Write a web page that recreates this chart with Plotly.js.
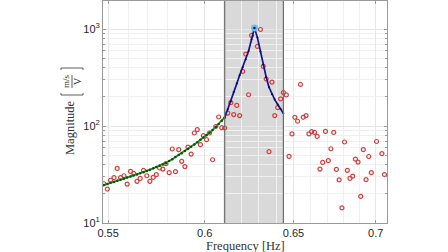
<!DOCTYPE html>
<html><head><meta charset="utf-8">
<script src="https://cdn.plot.ly/plotly-3.0.1.min.js"></script>
<style>html,body{margin:0;padding:0;background:#fff}#chart{width:448px;height:252px}</style>
</head><body><div id="chart"></div>
<script>
// Measured frequencies [Hz]
const freq = [0.5479,0.5496,0.5512,0.5529,0.5545,0.5562,0.5579,0.5595,0.5612,0.5628,
  0.5645,0.5661,0.5678,0.5695,0.5711,0.5728,0.5744,0.5761,0.5778,0.5794,
  0.5811,0.5827,0.5844,0.5861,0.5877,0.5894,0.5910,0.5927,0.5944,0.5960,
  0.5977,0.5993,0.6010,0.6026,0.6043,0.6060,0.6076,0.6093,0.6109,0.6126,
  0.6143,0.6159,0.6176,0.6192,0.6209,0.6226,0.6242,0.6259,0.6275,0.6292,
  0.6309,0.6325,0.6342,0.6358,0.6375,0.6391,0.6408,0.6425,0.6441,0.6458,
  0.6474,0.6491,0.6508,0.6524,0.6541,0.6557,0.6574,0.6591,0.6607,0.6624,
  0.6640,0.6657,0.6673,0.6690,0.6707,0.6723,0.6740,0.6756,0.6773,0.6790,
  0.6806,0.6823,0.6839,0.6856,0.6873,0.6889,0.6906,0.6922,0.6939,0.6956,
  0.6972,0.6989,0.7005,0.7022,0.7039,0.7055];
// Measured magnitudes [(m/s)/V]
const measured = [25.4,22.4,27.6,29.3,36.5,29.3,30.7,25.2,34.0,32.5,
  26.9,28.8,34.8,30.7,26.9,29.5,31.5,36.9,36.0,40.9,
  33.0,57.9,33.8,57.0,43.2,38.2,60.5,51.4,84.7,91.6,
  64.2,79.4,72.2,84.7,44.9,98.8,123.8,96.0,95.4,136,
  174,131,163,128,365,552,210,859,1000,662,
  988,412,305,54.3,283,128,155,190,221,209,
  48.6,82.9,123,112,268,123,128,82.9,87.4,85.9,
  78.1,36.0,42.1,88.0,43.9,58.3,85.9,35.7,27.8,14.3,
  68.4,34.9,28.8,30.4,45.5,42.5,18.8,57.0,28.0,48.5,
  33.0,null,69.2,null,51.8,31.6];
// Low-frequency model (green), evaluated at freq[0..38]
const lowFitFreq = freq.slice(0, 39);
const lowFitMag = [24.6,25.2,26.0,26.5,27.2,28.0,28.6,29.4,30.2,30.9,
  31.7,32.5,33.4,34.4,35.5,36.6,37.8,39.0,40.2,41.4,
  43.5,45.4,47.8,50.1,52.4,55.1,57.8,61.1,64.5,67.9,
  72.1,76.1,80.4,85.1,90.9,97.7,104.9,113.4,122.4];
// Resonance fit (blue), evaluated at freq[38..58]
const peakFitFreq = freq.slice(38, 59);
const peakFitMag = [121.8,148.7,178.4,223.7,273.6,334,403.8,488,593,783,
  1024,815,586,431.5,317.7,250.6,212.2,187.2,166.6,149.4,135.2];
// Identified peak
const peakFreq = [0.6275];
const peakMag = [1024];
// Fitting band
const bandStart = 0.6109, bandEnd = 0.6441;
// Axis ticks
const xTickVals = [0.55, 0.6, 0.65, 0.7];
const xTickText = ['0.55', '0.6', '0.65', '0.7'];
const xMinorVals = [0.56,0.57,0.58,0.59,0.61,0.62,0.63,0.64,0.66,0.67,0.68,0.69];
const yTickVals = [10, 100, 1000];
const yTickText = ['10<sup>1</sup>', '10<sup>2</sup>', '10<sup>3</sup>'];
const yMinorVals = [20,30,40,50,60,70,80,90,200,300,400,500,600,700,800,900];

const L = 103, R = 61, T = 1, B = 29, W = 448, H = 252;
const pw = W - L - R, ph = H - T - B;
const px = v => (v - L) / pw;
const py = v => (H - B - v) / ph;
const serif = 'Liberation Serif, DejaVu Serif, serif';

const traces = [
  {x: freq, y: measured, type: 'scatter', mode: 'markers',
   marker: {symbol: 'circle-open', size: 4, color: '#d23c3c', line: {width: 1.2, color: '#d23c3c'}},
   hoverinfo: 'skip'},
  {x: lowFitFreq, y: lowFitMag, type: 'scatter', mode: 'lines+markers',
   line: {color: '#1e9a1e', width: 1.8},
   marker: {size: 2.5, color: '#0b4f0b'}},
  {x: peakFitFreq, y: peakFitMag, type: 'scatter', mode: 'lines+markers',
   line: {color: '#15158f', width: 1.7},
   marker: {size: 2, color: '#0a0a50'}},
  {x: peakFreq, y: peakMag, type: 'scatter', mode: 'markers',
   marker: {size: 7, color: '#5cc4f2'}},
  {x: peakFreq, y: peakMag, type: 'scatter', mode: 'markers',
   marker: {size: 2.5, color: '#0a0a60'}}
];

const axisColor = '#9a9a9a';
const layout = {
  width: W, height: H,
  margin: {l: L, r: R, t: T, b: B, pad: 0},
  paper_bgcolor: '#fff', plot_bgcolor: '#fff',
  showlegend: false,
  font: {family: 'Liberation Sans, Arial, sans-serif', size: 11, color: '#262626'},
  xaxis: {
    type: 'log', range: [-0.26165, -0.15050],
    tickmode: 'array', tickvals: xTickVals, ticktext: xTickText,
    ticks: 'inside', ticklen: 3, tickcolor: axisColor,
    showline: true, linecolor: axisColor, linewidth: 1, mirror: 'ticks',
    showgrid: true, gridcolor: '#e6e6e6', gridwidth: 1,
    zeroline: false,
    tickfont: {size: 11, color: '#262626'},
    minor: {tickmode: 'array', tickvals: xMinorVals, showgrid: true, gridcolor: '#f0f0f0', ticks: ''}
  },
  yaxis: {
    type: 'log', range: [1, 1 + 222/97],
    tickmode: 'array', tickvals: yTickVals, ticktext: yTickText,
    ticks: 'inside', ticklen: 3, tickcolor: axisColor,
    showline: true, linecolor: axisColor, linewidth: 1, mirror: 'ticks',
    showgrid: true, gridcolor: '#e6e6e6', gridwidth: 1,
    zeroline: false,
    tickfont: {size: 11, color: '#262626'},
    minor: {tickmode: 'array', tickvals: yMinorVals, showgrid: true, gridcolor: '#f0f0f0', ticks: 'inside', ticklen: 2, tickcolor: axisColor}
  },
  shapes: [
    {type: 'rect', xref: 'x', yref: 'paper', x0: bandStart, x1: bandEnd, y0: 0, y1: 1,
     fillcolor: '#d9d9d9', line: {width: 0}, layer: 'below'},
    {type: 'line', xref: 'x', yref: 'paper', x0: bandStart, x1: bandStart, y0: 0, y1: 1,
     line: {color: '#6e6e6e', width: 1.2}, layer: 'above'},
    {type: 'line', xref: 'x', yref: 'paper', x0: bandEnd, x1: bandEnd, y0: 0, y1: 1,
     line: {color: '#6e6e6e', width: 1.2}, layer: 'above'},
    // y-title fraction bar and brackets
    {type: 'line', xref: 'paper', yref: 'paper', x0: px(72), x1: px(72), y0: py(75), y1: py(88),
     line: {color: '#333', width: 0.8}},
    {type: 'path', xref: 'paper', yref: 'paper',
     path: `M ${px(61)} ${py(93)} L ${px(61)} ${py(95)} L ${px(83)} ${py(95)} L ${px(83)} ${py(93)}`,
     line: {color: '#333', width: 0.8}},
    {type: 'path', xref: 'paper', yref: 'paper',
     path: `M ${px(61)} ${py(70)} L ${px(61)} ${py(68)} L ${px(83)} ${py(68)} L ${px(83)} ${py(70)}`,
     line: {color: '#333', width: 0.8}}
  ],
  annotations: [
    {text: 'Frequency [Hz]', xref: 'paper', yref: 'paper', x: px(245), y: py(245.5),
     showarrow: false, xanchor: 'center', yanchor: 'middle',
     font: {family: serif, size: 12.5, color: '#333'}},
    {text: 'Magnitude', xref: 'paper', yref: 'paper', x: px(70), y: py(128), textangle: -90,
     showarrow: false, xanchor: 'center', yanchor: 'middle',
     font: {family: serif, size: 12.5, color: '#333'}},
    {text: 'm/s', xref: 'paper', yref: 'paper', x: px(66.5), y: py(81.5), textangle: -90,
     showarrow: false, xanchor: 'center', yanchor: 'middle',
     font: {family: serif, size: 9, color: '#333'}},
    {text: 'V', xref: 'paper', yref: 'paper', x: px(77.5), y: py(81.5), textangle: -90,
     showarrow: false, xanchor: 'center', yanchor: 'middle',
     font: {family: serif, size: 10, color: '#333'}}
  ]
};

Plotly.newPlot('chart', traces, layout, {staticPlot: true, displayModeBar: false});
</script>
</body></html>
